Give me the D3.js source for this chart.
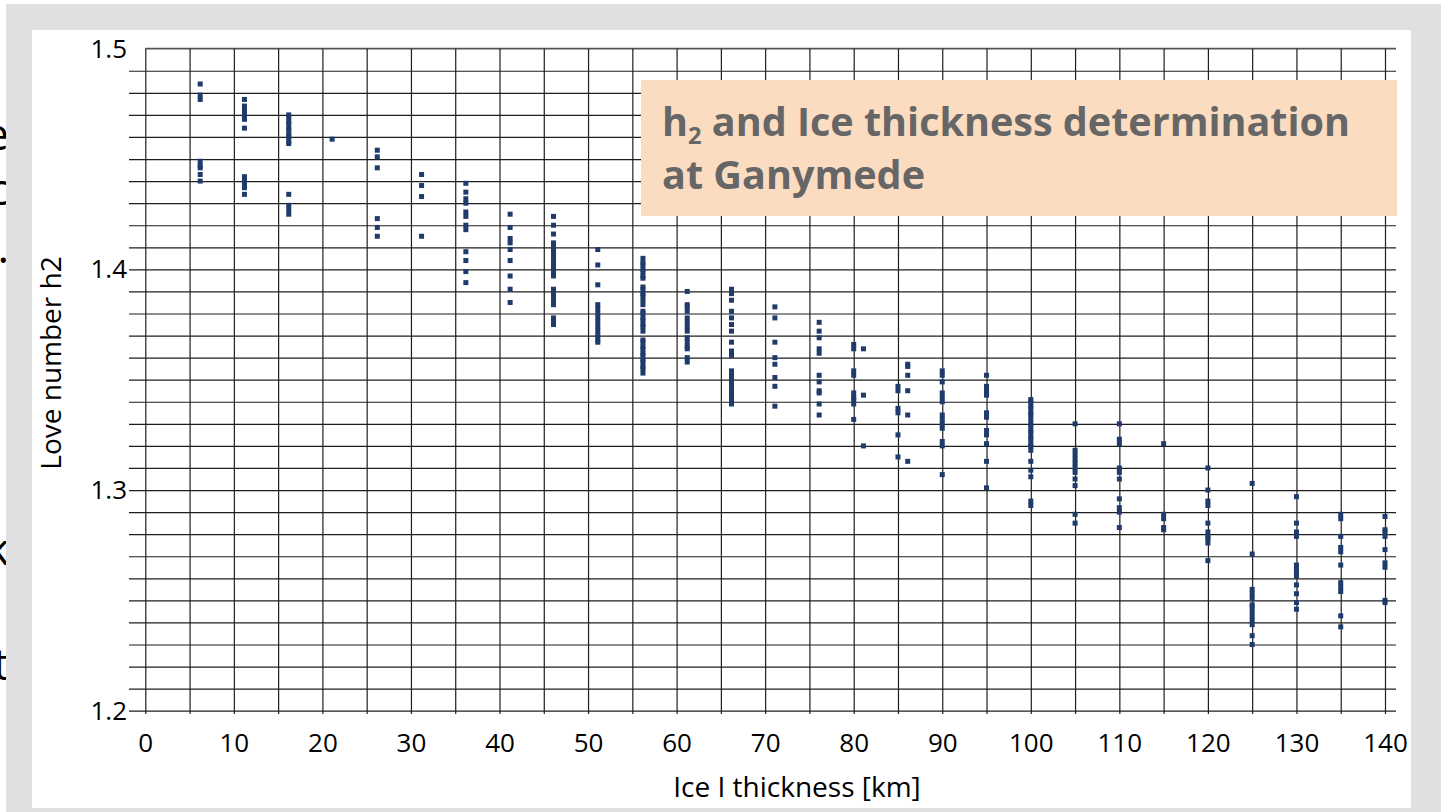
<!DOCTYPE html>
<html>
<head>
<meta charset="utf-8">
<script src="https://cdn.jsdelivr.net/npm/d3@7"></script>
<style>
  body { margin: 0; background: #fff; }
  svg { display: block; }
</style>
</head>
<body>
<div id="chart"></div>
<script>
// ice I thickness columns [km]
var thickness = [6.2, 11.2, 16.2, 21.1, 26.2, 31.2, 36.2, 41.2, 46.1, 51.1, 56.2, 61.2, 66.2, 71.1, 76.1,
  80, 81.1, 85, 86.1, 90, 95, 100, 105, 110, 115, 120, 125, 130, 135, 140];

// love number h2 values for each column
var h2 = [
  [1.484, 1.479, 1.477, 1.449, 1.447, 1.446, 1.443, 1.440],
  [1.477, 1.474, 1.472, 1.470, 1.468, 1.464, 1.442, 1.440, 1.438, 1.437, 1.434],
  [1.470, 1.469, 1.467, 1.466, 1.464, 1.463, 1.461, 1.460, 1.458, 1.457, 1.434, 1.429, 1.427, 1.425],
  [1.459],
  [1.454, 1.451, 1.446, 1.423, 1.419, 1.415],
  [1.443, 1.438, 1.433, 1.415],
  [1.439, 1.435, 1.432, 1.430, 1.426, 1.424, 1.420, 1.418, 1.408, 1.404, 1.399, 1.394],
  [1.425, 1.419, 1.414, 1.412, 1.409, 1.404, 1.397, 1.391, 1.385],
  [1.424, 1.420, 1.416, 1.412, 1.410, 1.409, 1.407, 1.406, 1.404, 1.403, 1.401, 1.400, 1.398, 1.397,
   1.391, 1.390, 1.388, 1.386, 1.384, 1.378, 1.376, 1.375],
  [1.409, 1.402, 1.393, 1.384, 1.382, 1.380, 1.378, 1.376, 1.374, 1.372, 1.370, 1.368, 1.367],
  [1.405, 1.403, 1.402, 1.400, 1.399, 1.397, 1.396, 1.392, 1.391, 1.389, 1.388, 1.386, 1.384, 1.381,
   1.380, 1.378, 1.377, 1.375, 1.374, 1.372, 1.368, 1.367, 1.365, 1.364, 1.362, 1.361, 1.359, 1.358,
   1.356, 1.355, 1.353],
  [1.390, 1.384, 1.383, 1.381, 1.378, 1.376, 1.374, 1.372, 1.369, 1.367, 1.365, 1.364, 1.360, 1.358],
  [1.391, 1.389, 1.386, 1.381, 1.378, 1.375, 1.372, 1.367, 1.363, 1.361, 1.354, 1.353, 1.351, 1.350,
   1.348, 1.347, 1.345, 1.344, 1.342, 1.341, 1.339],
  [1.383, 1.378, 1.367, 1.360, 1.357, 1.351, 1.347, 1.338],
  [1.376, 1.372, 1.369, 1.364, 1.362, 1.352, 1.349, 1.345, 1.344, 1.339, 1.334],
  [1.366, 1.364, 1.354, 1.352, 1.344, 1.342, 1.341, 1.339, 1.332],
  [1.364, 1.343, 1.320],
  [1.347, 1.345, 1.337, 1.335, 1.325, 1.315],
  [1.357, 1.356, 1.352, 1.345, 1.334, 1.313],
  [1.354, 1.352, 1.349, 1.344, 1.342, 1.340, 1.334, 1.332, 1.330, 1.328, 1.322, 1.320, 1.307],
  [1.352, 1.347, 1.345, 1.343, 1.335, 1.333, 1.327, 1.325, 1.321, 1.313, 1.301],
  [1.341, 1.340, 1.338, 1.337, 1.335, 1.334, 1.332, 1.330, 1.329, 1.327, 1.326, 1.324, 1.323, 1.321,
   1.320, 1.318, 1.313, 1.309, 1.306, 1.295, 1.293],
  [1.330, 1.318, 1.316, 1.314, 1.312, 1.310, 1.308, 1.305, 1.302, 1.289, 1.285],
  [1.330, 1.323, 1.321, 1.310, 1.308, 1.305, 1.296, 1.292, 1.290, 1.283],
  [1.321, 1.289, 1.287, 1.283, 1.282],
  [1.310, 1.300, 1.295, 1.293, 1.285, 1.281, 1.279, 1.278, 1.276, 1.268],
  [1.303, 1.271, 1.255, 1.253, 1.251, 1.248, 1.247, 1.245, 1.243, 1.241, 1.239, 1.234, 1.230],
  [1.297, 1.285, 1.281, 1.279, 1.266, 1.264, 1.262, 1.261, 1.257, 1.253, 1.249, 1.246],
  [1.289, 1.287, 1.279, 1.274, 1.272, 1.266, 1.258, 1.256, 1.254, 1.243, 1.238],
  [1.288, 1.282, 1.281, 1.279, 1.273, 1.267, 1.265, 1.250, 1.249]
];

var xTicks = d3.range(0, 141, 10);
var xGrid = d3.range(0, 141, 5);
var yTicks = [1.2, 1.3, 1.4, 1.5];
var yGrid = d3.range(0, 30).map(function(i) { return +(1.2 + i * 0.01).toFixed(2); });

var titleLines = ['and Ice thickness determination', 'at Ganymede'];

// bits of slide text peeking out on the left edge
var sideText = [['e', 150], ['c', 205], ['.', 263], ['k', 565], ['t', 680]];

var W = 1441, H = 812;
var pLeft = 145.3, pRight = 1385, pTop = 48.7, pBottom = 710.7;
var gridRight = 1396, tickLeft = 129, tickBottom = 714;
var font = '"Open Sans", "DejaVu Sans", sans-serif';

var x = d3.scaleLinear().domain([0, 140]).range([pLeft, pRight]);
var y = d3.scaleLinear().domain([1.2, 1.5]).range([pBottom, pTop]);

var svg = d3.select('#chart').append('svg')
	.attr('width', W)
	.attr('height', H);

svg.append('rect').attr('width', W).attr('height', H).attr('fill', '#fff');

svg.selectAll('text.side')
	.data(sideText)
	.enter().append('text')
	.attr('class', 'side')
	.attr('x', 9)
	.attr('y', function(d) { return d[1]; })
	.attr('text-anchor', 'end')
	.style('font-family', font)
	.style('font-size', '44px')
	.attr('fill', '#000')
	.text(function(d) { return d[0]; });

// grey frame + white card
svg.append('rect').attr('x', 6).attr('y', 4).attr('width', W - 6).attr('height', H - 4).attr('fill', '#e0e0e0');
svg.append('rect').attr('x', 32).attr('y', 30).attr('width', 1379).attr('height', 778).attr('fill', '#fff');

var grid = svg.append('g');

// horizontal grid lines (0.01 steps), sticking out left as ticks
grid.append('g')
	.attr('transform', 'translate(' + gridRight + ',0)')
	.call(d3.axisLeft(y).tickValues(yGrid).tickSize(gridRight - tickLeft).tickFormat(''))
	.call(function(g) { g.select('.domain').remove(); })
	.selectAll('line')
	.attr('stroke', '#1e1e1e')
	.attr('stroke-width', 1.2);

// top border
grid.append('line')
	.attr('x1', pLeft).attr('x2', gridRight)
	.attr('y1', y(1.5)).attr('y2', y(1.5))
	.attr('stroke', '#555').attr('stroke-width', 1.8);

// vertical grid lines every 5 km, sticking out below
grid.append('g')
	.attr('transform', 'translate(0,' + tickBottom + ')')
	.call(d3.axisTop(x).tickValues(xGrid).tickSize(tickBottom - pTop).tickFormat(''))
	.call(function(g) { g.select('.domain').remove(); })
	.selectAll('line')
	.attr('stroke', '#1e1e1e')
	.attr('stroke-width', 1.2);

// title box
svg.append('rect')
	.attr('x', 641).attr('y', 80)
	.attr('width', 756).attr('height', 136)
	.attr('fill', '#fcdcc1');

var t1 = svg.append('text')
	.attr('x', 662).attr('y', 136)
	.attr('textLength', 688)
	.attr('lengthAdjust', 'spacingAndGlyphs')
	.style('font-family', font)
	.style('font-weight', 700)
	.style('font-size', '40px')
	.attr('fill', '#666');
t1.append('tspan').text('h');
t1.append('tspan').attr('dy', 8).style('font-size', '24px').text('2');
t1.append('tspan').attr('dy', -8).text(' ' + titleLines[0]);

svg.append('text')
	.attr('x', 662).attr('y', 189)
	.attr('textLength', 263)
	.attr('lengthAdjust', 'spacingAndGlyphs')
	.style('font-family', font)
	.style('font-weight', 700)
	.style('font-size', '40px')
	.attr('fill', '#666')
	.text(titleLines[1]);

// data points
var pts = [];
thickness.forEach(function(t, i) {
	h2[i].forEach(function(v) { pts.push({ t: t, v: v }); });
});

svg.append('g').selectAll('rect')
	.data(pts)
	.enter().append('rect')
	.attr('x', function(d) { return x(d.t) - 2.5; })
	.attr('y', function(d) { return y(d.v) - 2.5; })
	.attr('width', 5)
	.attr('height', 5)
	.attr('fill', '#1f3b6b');

// tick labels
var yAxis = svg.append('g')
	.attr('transform', 'translate(' + tickLeft + ',0)')
	.call(d3.axisLeft(y).tickValues(yTicks).tickSize(0).tickPadding(2).tickFormat(d3.format('.1f')));
yAxis.select('.domain').remove();
yAxis.selectAll('text')
	.style('font-family', font)
	.style('font-size', '26px')
	.attr('fill', '#000');

var xAxis = svg.append('g')
	.attr('transform', 'translate(0,' + tickBottom + ')')
	.call(d3.axisBottom(x).tickValues(xTicks).tickSize(0).tickPadding(20));
xAxis.select('.domain').remove();
xAxis.selectAll('text')
	.style('font-family', font)
	.style('font-size', '26px')
	.attr('fill', '#000');

// axis titles
svg.append('text')
	.attr('x', 797).attr('y', 797)
	.attr('text-anchor', 'middle')
	.style('font-family', font)
	.style('font-size', '28px')
	.attr('fill', '#000')
	.text('Ice I thickness [km]');

svg.append('text')
	.attr('transform', 'translate(61,363) rotate(-90)')
	.attr('text-anchor', 'middle')
	.style('font-family', font)
	.style('font-size', '28px')
	.attr('fill', '#000')
	.text('Love number h2');
</script>
</body>
</html>
